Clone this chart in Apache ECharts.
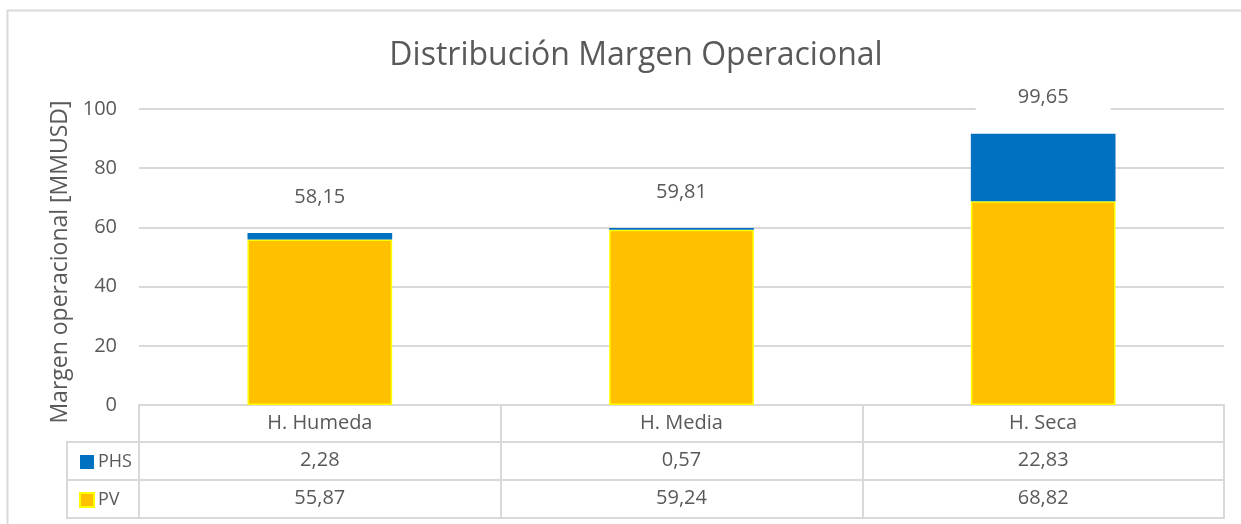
<!DOCTYPE html>
<html>
<head>
<meta charset="utf-8">
<script src="https://cdn.jsdelivr.net/npm/echarts@6/dist/echarts.min.js"></script>
<style>
  html, body { margin: 0; padding: 0; background: #fff; }
  #chart { width: 1241px; height: 524px; }
</style>
</head>
<body>
<div id="chart"></div>
<script>
const categories = ['H. Humeda', 'H. Media', 'H. Seca']
const pvValues = [55.87, 59.24, 68.82]
const phsValues = [2.28, 0.57, 22.83]
// total labels as printed on the original chart
const totalLabels = ['58,15', '59,81', '99,65']
const yTicks = { min: 0, max: 100, interval: 20 }

const fmt = v => v.toFixed(2).replace('.', ',')
const textColor = '#595959'
const lineColor = '#d9d9d9'
const font = 'Open Sans'

const chart = echarts.init(document.getElementById('chart'))

function tableAxis(data, offset) {
  return {
    type: 'category',
    data: data,
    position: 'bottom',
    offset: offset,
    axisLine: { show: true, lineStyle: { color: lineColor, width: 2 } },
    axisTick: { show: false },
    axisLabel: { color: textColor, fontSize: 20, fontFamily: font, margin: 8 },
    splitLine: { show: false }
  }
}

const option = {
  backgroundColor: '#fff',
  title: {
    text: 'Distribución Margen Operacional',
    left: 631,
    textAlign: 'center',
    top: 35,
    textStyle: { color: textColor, fontSize: 32, fontWeight: 'normal', fontFamily: font }
  },
  legend: {
    data: ['PHS', 'PV'],
    orient: 'vertical',
    left: 74,
    top: 448,
    itemWidth: 14,
    itemHeight: 14,
    itemGap: 20,
    icon: 'rect',
    textStyle: { color: textColor, fontSize: 18, fontFamily: font, padding: [0, 0, 0, -1] }
  },
  grid: { left: 139, right: 17, top: 109, bottom: 119 },
  xAxis: [
    {
      type: 'category',
      data: categories,
      position: 'bottom',
      axisLine: { show: true, lineStyle: { color: lineColor, width: 2 } },
      axisTick: { show: true, inside: false, length: 113, lineStyle: { color: lineColor, width: 2 } },
      axisLabel: { color: textColor, fontSize: 20, fontFamily: font, margin: 8 },
      splitLine: { show: false }
    },
    tableAxis(phsValues.map(fmt), 37),
    tableAxis(pvValues.map(fmt), 75),
    Object.assign(tableAxis(categories, 113), { axisLabel: { show: false } })
  ],
  yAxis: {
    type: 'value',
    min: yTicks.min,
    max: yTicks.max,
    interval: yTicks.interval,
    name: 'Margen operacional [MMUSD]',
    nameLocation: 'middle',
    nameRotate: 90,
    nameGap: 63,
    nameTextStyle: { color: textColor, fontSize: 23, fontFamily: font, padding: [0, 10, 0, 0] },
    axisLine: { show: false },
    axisTick: { show: false },
    axisLabel: { color: textColor, fontSize: 20, fontFamily: font, margin: 22 },
    splitLine: { lineStyle: { color: lineColor, width: 2 } }
  },
  series: [
    {
      name: 'PV',
      type: 'bar',
      stack: 'total',
      barWidth: '40%',
      data: pvValues,
      itemStyle: { color: '#FFC000', borderColor: '#FFFF00', borderWidth: 1.5 }
    },
    {
      name: 'PHS',
      type: 'bar',
      stack: 'total',
      data: phsValues,
      itemStyle: { color: '#0070C0' }
    },
    {
      name: 'Total',
      type: 'bar',
      stack: 'total',
      data: categories.map(() => 0),
      itemStyle: { color: 'transparent' },
      label: {
        show: true,
        position: 'top',
        distance: 22,
        formatter: p => totalLabels[p.dataIndex],
        color: textColor,
        fontSize: 20,
        fontFamily: font,
        backgroundColor: '#fff',
        padding: [4, 42]
      }
    }
  ],
  graphic: [
    // outer chart border (right/bottom edges fall outside the picture)
    {
      type: 'rect',
      shape: { x: 7.5, y: 10.5, width: 1300, height: 600 },
      style: { fill: null, stroke: lineColor, lineWidth: 2 },
      silent: true
    },
    // legend cells of the data table
    {
      type: 'polyline',
      shape: { points: [[139, 442], [67, 442], [67, 518], [139, 518]] },
      style: { fill: null, stroke: lineColor, lineWidth: 2 },
      silent: true
    },
    {
      type: 'line',
      shape: { x1: 67, y1: 480, x2: 139, y2: 480 },
      style: { stroke: lineColor, lineWidth: 2 },
      silent: true
    }
  ]
}

chart.setOption(option)
</script>
</body>
</html>
